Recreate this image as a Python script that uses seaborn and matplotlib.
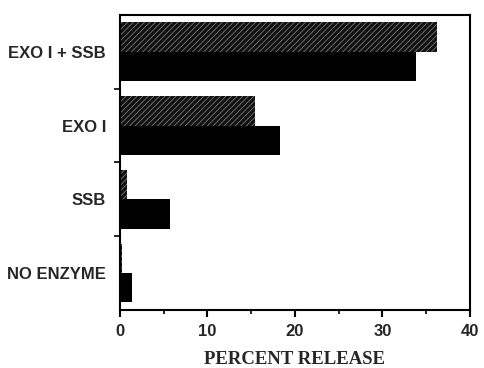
import matplotlib
matplotlib.use("Agg")
import matplotlib.pyplot as plt
import seaborn as sns
import pandas as pd
from matplotlib.ticker import MultipleLocator, FixedLocator

categories = ["EXO I + SSB", "EXO I", "SSB", "NO ENZYME"]
series_names = ["hatched", "solid"]
hatched_vals = [36.2, 15.5, 0.8, 0.2]
solid_vals = [33.8, 18.3, 5.7, 1.4]
x_ticks = [0, 10, 20, 30, 40]

df = pd.DataFrame({
    "category": categories * 2,
    "series": [series_names[0]] * 4 + [series_names[1]] * 4,
    "value": hatched_vals + solid_vals,
})

sns.set_theme(style="white")
plt.rcParams["hatch.linewidth"] = 0.5
plt.rcParams["font.family"] = ["Liberation Sans", "DejaVu Sans"]

fig = plt.figure(figsize=(4.85, 3.68), dpi=100)
ax = fig.add_axes([0.247, 0.158, 0.722, 0.801])

sns.barplot(data=df, y="category", x="value", hue="series", order=categories,
            hue_order=series_names, palette=["#111111", "#000000"],
            width=0.8, orient="h", legend=False, ax=ax, linewidth=0, saturation=1)

for patch, val in zip(ax.patches, hatched_vals):
    patch.set_hatch("//////")
    patch.set_edgecolor("#8a8a8a")
    patch.set_linewidth(0)

ax.set_xlim(0, 40)
ax.set_ylim(3.5, -0.5)
ax.set_xticks(x_ticks)
ax.set_xticklabels([str(t) for t in x_ticks], fontweight="bold", fontsize=12)
ax.xaxis.set_minor_locator(MultipleLocator(5))
ax.tick_params(axis="x", which="major", direction="out", length=5, width=1.5,
               bottom=True, color="black", pad=5)
ax.tick_params(axis="x", which="minor", direction="out", length=3, width=1.2,
               bottom=True, color="black")
ax.set_yticks(range(len(categories)))
ax.set_yticklabels(categories, fontweight="bold", fontsize=12)
ax.yaxis.set_minor_locator(FixedLocator([0.5, 1.5, 2.5]))
ax.tick_params(axis="y", which="major", length=0, pad=10)
ax.tick_params(axis="y", which="minor", direction="out", length=4, width=1.2,
               left=True, color="black")

for s in ax.spines.values():
    s.set_visible(True)
    s.set_color("black")
    s.set_linewidth(1.5)

ax.set_ylabel("")
ax.set_xlabel("PERCENT RELEASE", fontfamily=["Liberation Serif", "DejaVu Serif"],
              fontweight="bold", fontsize=13.5, labelpad=9)

fig.savefig("out.png", dpi=100)
